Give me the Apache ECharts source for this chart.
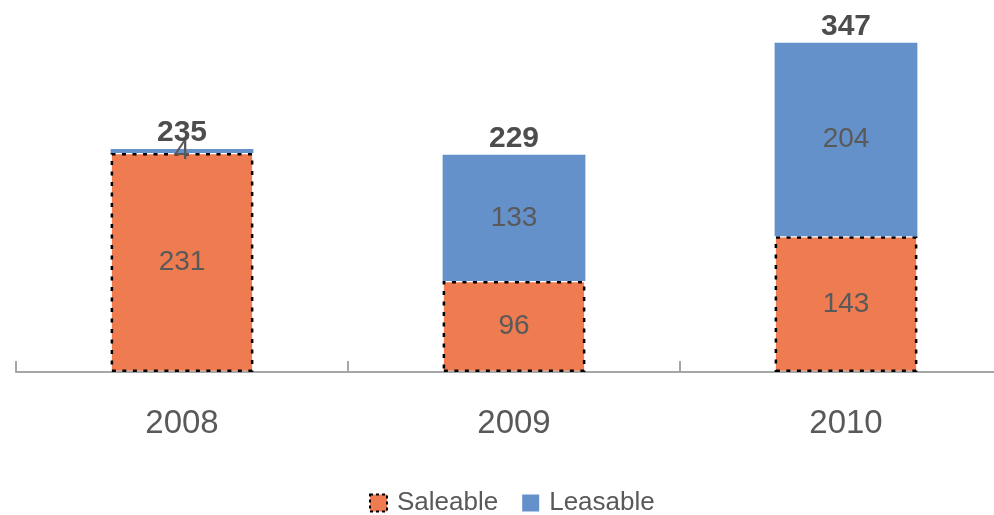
<!DOCTYPE html>
<html>
<head>
<meta charset="utf-8">
<style>
  html, body { margin: 0; padding: 0; background: #ffffff; }
  #chart { width: 994px; height: 515px; }
</style>
<script src="https://cdn.jsdelivr.net/npm/echarts@6/dist/echarts.min.js"></script>
</head>
<body>
<div id="chart"></div>
<script>
// Stacked supply by year: saleable and leasable units
const years = ['2008', '2009', '2010'];
const saleable = [231, 96, 143];
const leasable = [4, 133, 204];
const totals = years.map((_, i) => saleable[i] + leasable[i]);

const TEXT = '#595959';
const FONT = '"Liberation Sans", Arial, sans-serif';
const ORANGE = '#ef7b51';
const BLUE = '#6591cb';

const chart = echarts.init(document.getElementById('chart'), null, { renderer: 'canvas' });

chart.setOption({
  animation: false,
  textStyle: { fontFamily: FONT },
  // the plot runs slightly past the right edge of the canvas
  grid: { left: 16, width: 996, top: 40, bottom: 143, containLabel: false, outerBoundsMode: 'none' },
  legend: {
    data: [
      {
        name: 'Saleable',
        icon: 'rect',
        itemStyle: { color: ORANGE, borderColor: '#000000', borderWidth: 2, borderType: [3, 3] }
      },
      { name: 'Leasable', icon: 'rect', itemStyle: { color: BLUE, borderWidth: 0 } }
    ],
    left: 364,
    top: 485,
    itemWidth: 17,
    itemHeight: 17,
    itemGap: 24,
    textStyle: { color: TEXT, fontSize: 26, fontFamily: FONT, padding: [0, 0, 0, 5] }
  },
  xAxis: {
    type: 'category',
    data: years,
    boundaryGap: true,
    axisLine: { lineStyle: { color: '#a6a6a6', width: 2 } },
    axisTick: { show: true, inside: true, length: 11, lineStyle: { color: '#a6a6a6', width: 2 } },
    axisLabel: { color: TEXT, fontSize: 33, fontFamily: FONT, margin: 35 }
  },
  yAxis: {
    type: 'value',
    min: 0,
    max: 350,
    show: false,
    splitLine: { show: false }
  },
  series: [
    {
      name: 'Saleable',
      type: 'bar',
      stack: 'units',
      barWidth: '43%',
      data: saleable,
      itemStyle: {
        color: ORANGE,
        borderColor: '#000000',
        borderWidth: 2.5,
        borderType: [4, 6.5]
      },
      label: {
        show: true,
        position: 'inside',
        color: TEXT,
        fontSize: 28,
        fontFamily: FONT
      }
    },
    {
      name: 'Leasable',
      type: 'bar',
      stack: 'units',
      barWidth: '43%',
      data: leasable,
      itemStyle: { color: BLUE },
      label: {
        show: true,
        position: 'inside',
        color: TEXT,
        fontSize: 28,
        fontFamily: FONT
      }
    },
    {
      name: 'Total',
      type: 'scatter',
      data: totals,
      symbolSize: 0,
      silent: true,
      itemStyle: { opacity: 1 },
      label: {
        show: true,
        position: 'top',
        distance: 1,
        color: '#4d4d4d',
        opacity: 1,
        fontSize: 30,
        fontWeight: 'bold',
        fontFamily: FONT
      },
      z: 5
    }
  ]
});
</script>
</body>
</html>
